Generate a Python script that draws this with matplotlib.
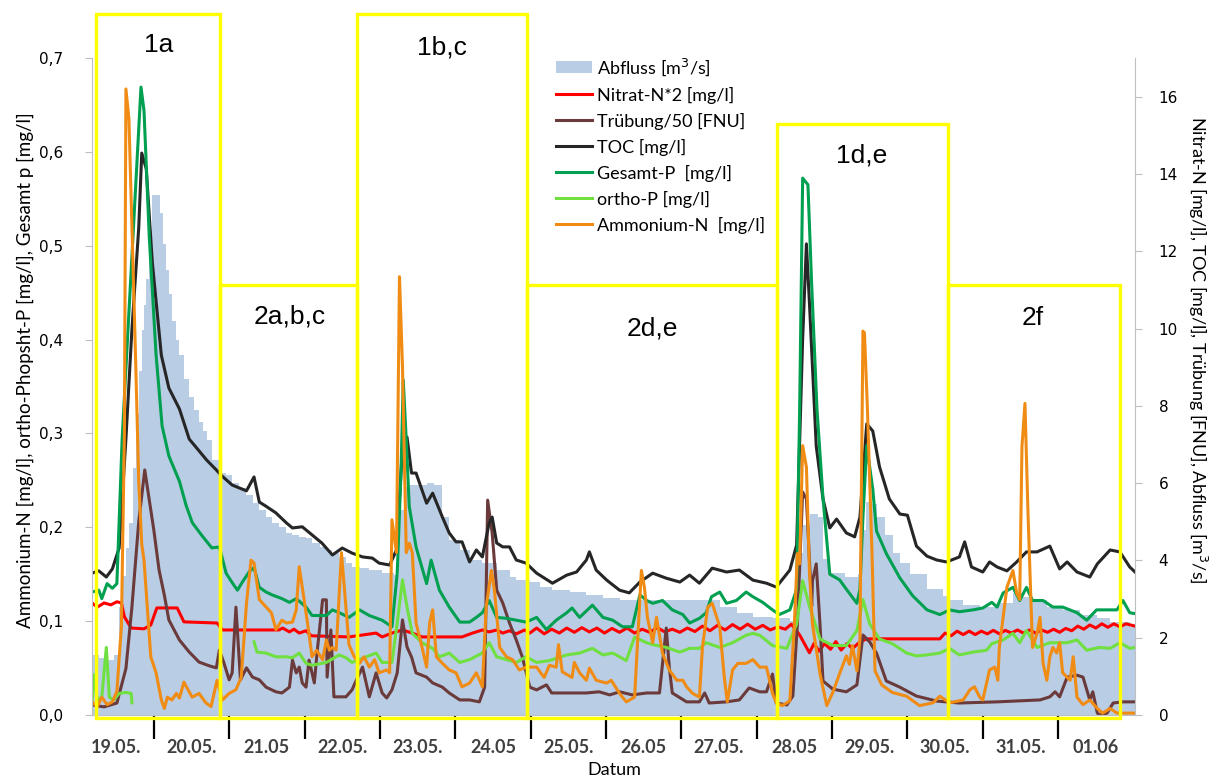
import numpy as np
import matplotlib
matplotlib.use("Agg")
import matplotlib.pyplot as plt
from matplotlib.patches import Rectangle

plt.rcParams['font.family'] = ['Lato', 'DejaVu Sans']

# time axis: days counted from 19.05. 00:00
abfluss_t = [0.18, 0.27, 0.38, 0.47, 0.54, 0.58, 0.63, 0.67, 0.72, 0.76, 0.80, 0.84, 0.87, 0.90,
             0.94, 0.98, 1.04, 1.08, 1.12, 1.16, 1.20, 1.24, 1.29, 1.34, 1.40, 1.47, 1.53, 1.60,
             1.65, 1.70, 1.77, 1.87, 1.96, 2.04, 2.13, 2.23, 2.31, 2.40,
             2.49, 2.57, 2.66, 2.76, 2.84, 2.93, 3.02, 3.10, 3.20, 3.29, 3.37, 3.46, 3.55, 3.63,
             3.73, 3.86, 4.03, 4.19, 4.26, 4.33, 4.39, 4.62, 4.72, 4.83, 4.92, 5.06, 5.19, 5.36,
             5.55, 5.72, 5.81, 5.99, 6.12, 6.29, 6.52, 6.74, 6.96, 7.18, 8.28, 8.51, 8.74, 8.95,
             9.21, 9.44, 9.53, 9.61, 9.71, 9.81, 9.88, 9.97, 10.17, 10.34, 10.40, 10.45, 10.53,
             10.60, 10.70, 10.81, 10.90, 11.03, 11.26, 11.47, 11.56, 11.74, 11.96, 12.19, 12.40,
             12.53, 12.63, 12.85, 13.07, 13.29, 13.52, 13.69, 13.95, 14.02]
abfluss = [1.55, 1.47, 1.42, 1.55, 2.79, 3.60, 4.32, 4.97, 6.40, 7.79, 8.90, 9.96, 10.60, 11.28,
           12.55, 13.45, 13.45, 13.00, 12.20, 11.51, 10.90, 10.19, 9.70, 9.31, 8.70, 8.22, 7.90, 7.58,
           7.35, 7.11, 6.60, 6.26, 6.21, 6.00, 5.87, 5.69, 5.48, 5.30,
           5.12, 4.97, 4.86, 4.71, 4.66, 4.60, 4.58, 4.45, 4.35, 4.27, 4.19, 4.09, 3.93, 3.83,
           3.80, 3.75, 3.67, 3.62, 5.30, 5.89, 5.95, 6.00, 5.95, 5.12, 4.53, 4.27, 4.01, 3.93,
           3.75, 3.57, 3.49, 3.44, 3.31, 3.23, 3.18, 3.10, 3.03, 2.98, 2.98, 2.80, 2.64, 2.54,
           2.51, 2.43, 4.19, 4.91, 5.20, 5.12, 4.04, 3.67, 3.57, 3.65, 4.79, 5.51, 5.45,
           5.12, 4.66, 4.19, 3.93, 3.65, 3.26, 3.08, 2.98, 2.85, 2.80, 2.90, 3.16,
           3.05, 2.98, 2.80, 2.72, 2.59, 2.51, 2.41, 2.28, 2.28]

nitrat_t = [0.18, 0.25, 0.34, 0.43, 0.51, 0.57, 0.61, 0.70, 0.87, 0.96, 1.04, 1.31, 1.40, 1.84,
            1.91, 2.66, 2.71, 2.80, 2.86, 2.93, 3.02, 3.09, 3.59, 3.95, 4.03, 4.16, 4.30, 4.43,
            4.56, 5.09, 5.23, 5.36, 5.45, 5.55, 5.63, 5.72, 5.81, 5.92, 5.99, 6.08, 6.18, 6.28,
            6.38, 6.48, 6.58, 6.68, 6.78, 6.88, 6.98, 7.08, 7.18, 7.28, 7.38, 7.48, 7.58, 7.68,
            7.78, 7.88, 7.98, 8.08, 8.18, 8.28, 8.38, 8.48, 8.58, 8.68, 8.78, 8.88, 8.98, 9.08,
            9.18, 9.28, 9.38, 9.46, 9.57, 9.70, 9.76, 9.83, 9.90, 9.98, 10.05, 10.12, 10.20,
            10.27, 10.37, 10.46, 11.43, 11.50, 11.58, 11.66, 11.74, 11.82, 11.90, 11.98, 12.06,
            12.14, 12.22, 12.30, 12.38, 12.46, 12.54, 12.62, 12.70, 12.78, 12.86, 12.94, 13.02,
            13.10, 13.18, 13.26, 13.34, 13.42, 13.50, 13.58, 13.66, 13.74, 13.82, 13.90, 14.02]
nitrat = [2.90, 2.79, 2.90, 2.85, 2.93, 2.90, 2.54, 2.25, 2.23, 2.33, 2.77, 2.77, 2.41, 2.38,
          2.20, 2.20, 2.25, 2.15, 2.22, 2.12, 2.18, 2.05, 2.02, 2.12, 2.02, 2.12, 2.20, 2.12,
          2.02, 2.02, 2.12, 2.20, 2.15, 2.20, 2.12, 2.18, 2.10, 2.20, 2.12, 2.25, 2.10, 2.22,
          2.12, 2.25, 2.14, 2.26, 2.15, 2.25, 2.12, 2.24, 2.14, 2.25, 2.12, 2.22, 2.14, 2.26,
          2.15, 2.22, 2.14, 2.25, 2.16, 2.30, 2.18, 2.32, 2.20, 2.34, 2.22, 2.35, 2.22, 2.32,
          2.20, 2.28, 2.22, 2.35, 2.07, 1.61, 1.85, 1.65, 1.85, 1.70, 1.90, 1.68, 1.85,
          1.72, 1.89, 1.97, 1.97, 2.12, 2.05, 2.17, 2.08, 2.17, 2.08, 2.17, 2.10,
          2.19, 2.10, 2.19, 2.12, 2.20, 2.12, 2.20, 2.12, 2.20, 2.14, 2.22, 2.14,
          2.24, 2.18, 2.30, 2.22, 2.33, 2.25, 2.36, 2.27, 2.36, 2.28, 2.36, 2.30]

truebung_t = [0.18, 0.34, 0.51, 0.63, 0.71, 0.80, 0.88, 0.94, 1.00, 1.07, 1.14, 1.20, 1.34, 1.47,
              1.60, 1.74, 1.83, 1.87, 1.93, 2.00, 2.04, 2.09, 2.15, 2.23, 2.31, 2.40, 2.49, 2.62,
              2.70, 2.80, 2.84, 2.89, 2.93, 2.97, 3.02, 3.06, 3.13, 3.17, 3.24, 3.29, 3.30, 3.35,
              3.39, 3.55, 3.63, 3.69, 3.77, 3.86, 3.95, 4.03, 4.09, 4.16, 4.23, 4.30, 4.36, 4.42,
              4.48, 4.62, 4.70, 4.83, 4.92, 5.06, 5.19, 5.32, 5.39, 5.43, 5.49, 5.55, 5.63, 5.72,
              5.81, 5.89, 5.99, 6.08, 6.21, 6.28, 6.48, 6.74, 6.91, 7.05, 7.18, 7.35, 7.54, 7.71,
              7.80, 7.84, 7.88, 8.07, 8.24, 8.31, 8.37, 8.60, 8.77, 8.90, 9.04, 9.13, 9.21, 9.26,
              9.40, 9.48, 9.54, 9.61, 9.66, 9.73, 9.74, 9.79, 9.84, 9.88, 10.01, 10.19, 10.33,
              10.41, 10.50, 10.59, 10.72, 10.90, 11.12, 11.39, 11.69, 12.19, 12.76, 12.89, 12.96,
              13.02, 13.12, 13.25, 13.33, 13.42, 13.46, 13.52, 13.55, 13.65, 13.73, 13.86, 14.02]
truebung = [0.26, 0.21, 0.31, 1.20, 2.80, 5.00, 6.34, 5.56, 4.79, 3.75, 3.10, 2.46, 1.94, 1.63,
            1.37, 1.27, 1.22, 1.68, 1.35, 0.91, 1.09, 2.79, 0.91, 1.22, 0.98, 0.91, 0.72, 0.60,
            0.57, 0.72, 1.42, 1.09, 1.24, 0.83, 0.72, 1.42, 0.83, 1.68, 2.98, 2.98, 0.98, 2.20,
            0.47, 0.47, 0.65, 0.91, 1.24, 0.47, 1.09, 0.57, 0.44, 0.65, 1.09, 2.46, 1.76, 1.50,
            1.09, 0.98, 0.83, 0.72, 0.57, 0.39, 0.39, 0.34, 0.72, 5.56, 4.71, 3.23, 2.90, 2.38,
            1.94, 1.50, 0.72, 0.65, 0.78, 0.57, 0.57, 0.57, 0.60, 0.52, 0.60, 0.52, 0.57, 0.57,
            2.25, 1.24, 0.57, 0.34, 0.34, 0.57, 0.31, 0.34, 0.39, 0.70, 0.60, 0.60, 1.06, 0.31,
            0.26, 0.49, 2.35, 5.77, 5.59, 2.82, 3.47, 3.91, 2.35, 0.88, 0.67, 0.60, 0.78,
            2.07, 1.89, 1.60, 0.88, 0.72, 0.49, 0.36, 0.31, 0.34, 0.39, 0.47, 0.60,
            0.47, 0.98, 1.03, 0.98, 0.39, 0.60, 0.05, 0.00, 0.05, 0.31, 0.34, 0.34]

toc_t = [0.18, 0.27, 0.37, 0.45, 0.54, 0.63, 0.71, 0.80, 0.84, 0.90, 0.98, 1.10, 1.20, 1.34,
         1.47, 1.56, 1.70, 1.83, 1.89, 2.04, 2.23, 2.33, 2.40, 2.49, 2.62, 2.76, 2.84, 2.97,
         3.10, 3.23, 3.37, 3.50, 3.63, 3.77, 3.90, 3.99, 4.13, 4.22, 4.30, 4.36, 4.42, 4.48,
         4.62, 4.70, 4.83, 4.92, 5.01, 5.09, 5.19, 5.28, 5.36, 5.45, 5.49, 5.55, 5.63, 5.72,
         5.81, 5.94, 6.08, 6.29, 6.48, 6.61, 6.74, 6.78, 6.87, 7.01, 7.18, 7.31, 7.45, 7.62,
         7.80, 7.98, 8.11, 8.24, 8.41, 8.60, 8.77, 8.95, 9.13, 9.26, 9.44, 9.53, 9.61, 9.66,
         9.70, 9.79, 9.88, 9.97, 10.06, 10.19, 10.30, 10.37, 10.46, 10.54, 10.63, 10.76, 10.90,
         11.00, 11.12, 11.26, 11.39, 11.52, 11.69, 11.76, 11.85, 12.00, 12.09, 12.19, 12.32,
         12.45, 12.58, 12.72, 12.89, 13.02, 13.12, 13.25, 13.42, 13.52, 13.69, 13.82, 13.95, 14.02]
toc = [3.67, 3.73, 3.57, 3.78, 4.32, 7.14, 9.99, 12.60, 14.54, 14.13, 11.72, 9.31, 8.46, 7.92,
       7.14, 6.93, 6.60, 6.34, 6.21, 5.95, 5.80, 6.16, 5.51, 5.40, 5.23, 4.97, 4.84, 4.87,
       4.66, 4.45, 4.14, 4.32, 4.19, 4.09, 4.06, 3.93, 3.88, 4.27, 6.93, 7.19, 6.26, 6.26,
       5.48, 5.74, 5.12, 4.71, 4.48, 4.48, 3.96, 4.27, 4.09, 4.97, 5.12, 4.45, 4.35, 4.35,
       4.01, 3.93, 3.67, 3.41, 3.62, 3.70, 4.01, 4.22, 3.75, 3.49, 3.23, 3.16, 3.44, 3.67,
       3.54, 3.44, 3.62, 3.41, 3.80, 3.70, 3.75, 3.49, 3.41, 3.31, 3.75, 4.40, 9.73, 12.19,
       10.66, 6.96, 5.59, 4.84, 5.07, 4.71, 4.61, 5.12, 7.53, 7.35, 6.42, 5.59, 5.20,
       5.17, 4.37, 4.11, 4.01, 3.96, 4.09, 4.48, 3.83, 3.70, 3.96, 3.83, 3.73,
       3.96, 4.22, 4.22, 4.37, 3.78, 3.96, 3.70, 3.57, 3.91, 4.27, 4.22, 3.83, 3.70]

gesamt_t = [0.18, 0.27, 0.31, 0.38, 0.45, 0.51, 0.58, 0.67, 0.76, 0.83, 0.87, 0.94, 1.03, 1.11,
            1.20, 1.34, 1.43, 1.51, 1.64, 1.77, 1.87, 1.96, 2.04, 2.11, 2.17, 2.27, 2.33, 2.40,
            2.49, 2.57, 2.70, 2.80, 2.89, 3.02, 3.10, 3.29, 3.37, 3.46, 3.59, 3.73, 3.86, 4.03,
            4.16, 4.23, 4.28, 4.31, 4.35, 4.39, 4.48, 4.62, 4.68, 4.79, 4.92, 5.06, 5.19, 5.28,
            5.36, 5.45, 5.55, 5.68, 5.81, 5.94, 6.08, 6.21, 6.34, 6.48, 6.55, 6.65, 6.82, 6.96,
            7.09, 7.22, 7.35, 7.45, 7.54, 7.62, 7.75, 7.88, 8.02, 8.11, 8.24, 8.33, 8.40, 8.51,
            8.60, 8.73, 8.86, 8.95, 9.08, 9.21, 9.30, 9.44, 9.53, 9.57, 9.61, 9.68, 9.73, 9.80,
            9.88, 9.97, 10.10, 10.19, 10.33, 10.37, 10.41, 10.46, 10.54, 10.59, 10.72, 10.90,
            11.07, 11.26, 11.43, 11.56, 11.69, 11.87, 12.00, 12.12, 12.19, 12.27, 12.40, 12.49,
            12.58, 12.66, 12.80, 12.93, 13.06, 13.25, 13.38, 13.51, 13.65, 13.78, 13.86, 13.95, 14.02]
gesamt_p = [0.131, 0.133, 0.124, 0.140, 0.135, 0.140, 0.294, 0.428, 0.564, 0.669, 0.644, 0.509,
            0.384, 0.308, 0.276, 0.249, 0.223, 0.205, 0.191, 0.178, 0.179, 0.151, 0.141, 0.133,
            0.141, 0.153, 0.157, 0.136, 0.131, 0.128, 0.124, 0.120, 0.124, 0.115, 0.106, 0.106,
            0.112, 0.109, 0.104, 0.112, 0.106, 0.101, 0.094, 0.151, 0.258, 0.357, 0.293, 0.222,
            0.179, 0.140, 0.165, 0.133, 0.115, 0.099, 0.099, 0.104, 0.109, 0.122, 0.104, 0.103,
            0.101, 0.099, 0.104, 0.091, 0.101, 0.109, 0.114, 0.104, 0.117, 0.104, 0.101, 0.094,
            0.094, 0.128, 0.122, 0.119, 0.122, 0.112, 0.107, 0.098, 0.103, 0.109, 0.126, 0.131,
            0.119, 0.122, 0.131, 0.126, 0.120, 0.112, 0.107, 0.112, 0.134, 0.326, 0.572, 0.565,
            0.458, 0.326, 0.231, 0.150, 0.144, 0.134, 0.119, 0.134, 0.211, 0.287, 0.241, 0.196,
            0.172, 0.146, 0.127, 0.112, 0.107, 0.112, 0.110, 0.112, 0.114, 0.120, 0.115, 0.130,
            0.136, 0.122, 0.136, 0.122, 0.122, 0.115, 0.115, 0.109, 0.101, 0.112, 0.112, 0.112,
            0.122, 0.109, 0.108]

ortho_t = [0.18, 0.21, 0.25, 0.31, 0.37, 0.41, 0.47, 0.54, 0.63, 0.70, 0.71, 1.50, 2.33, 2.37,
           2.49, 2.62, 2.76, 2.84, 2.93, 3.02, 3.10, 3.29, 3.46, 3.55, 3.63, 3.82, 3.95, 4.03,
           4.16, 4.23, 4.30, 4.36, 4.43, 4.56, 4.70, 4.79, 4.92, 5.06, 5.19, 5.36, 5.45, 5.55,
           5.68, 5.81, 5.94, 6.08, 6.25, 6.48, 6.65, 6.82, 6.96, 7.09, 7.27, 7.38, 7.54, 7.62,
           7.80, 7.98, 8.11, 8.24, 8.33, 8.51, 8.68, 8.86, 8.95, 9.04, 9.21, 9.40, 9.53, 9.61,
           9.70, 9.84, 10.01, 10.19, 10.33, 10.41, 10.50, 10.63, 10.80, 10.99, 11.12, 11.26,
           11.43, 11.56, 11.69, 11.87, 12.05, 12.12, 12.27, 12.40, 12.49, 12.58, 12.72, 12.89,
           13.12, 13.25, 13.38, 13.55, 13.69, 13.82, 13.95, 14.02]
ortho_p = [0.013, 0.043, 0.016, 0.019, 0.072, 0.019, 0.016, 0.023, 0.024, 0.023, 0.013, np.nan,
           0.078, 0.067, 0.066, 0.062, 0.062, 0.061, 0.066, 0.055, 0.053, 0.056, 0.064, 0.061,
           0.056, 0.062, 0.066, 0.056, 0.056, 0.098, 0.144, 0.115, 0.087, 0.077, 0.071, 0.062,
           0.066, 0.056, 0.059, 0.066, 0.077, 0.062, 0.059, 0.056, 0.062, 0.056, 0.058, 0.064,
           0.066, 0.071, 0.064, 0.066, 0.058, 0.083, 0.077, 0.075, 0.072, 0.067, 0.071, 0.071,
           0.077, 0.072, 0.077, 0.085, 0.087, 0.085, 0.074, 0.071, 0.097, 0.143, 0.116, 0.081,
           0.074, 0.074, 0.090, 0.123, 0.097, 0.081, 0.076, 0.066, 0.063, 0.064, 0.066, 0.071,
           0.064, 0.067, 0.069, 0.076, 0.080, 0.087, 0.077, 0.090, 0.072, 0.077, 0.077, 0.080,
           0.069, 0.072, 0.071, 0.077, 0.071, 0.072]

amm_t = [0.18, 0.25, 0.31, 0.38, 0.45, 0.51, 0.57, 0.61, 0.63, 0.67, 0.71, 0.76, 0.80, 0.84,
         0.87, 0.96, 1.03, 1.10, 1.14, 1.18, 1.24, 1.30, 1.34, 1.40, 1.44, 1.51, 1.60, 1.69,
         1.76, 1.84, 1.91, 2.00, 2.09, 2.16, 2.23, 2.29, 2.33, 2.40, 2.49, 2.56, 2.62, 2.70,
         2.76, 2.84, 2.89, 2.93, 2.97, 3.04, 3.10, 3.16, 3.24, 3.29, 3.33, 3.37, 3.42, 3.49,
         3.55, 3.59, 3.66, 3.73, 3.79, 3.86, 3.93, 3.99, 4.09, 4.13, 4.16, 4.22, 4.26, 4.30,
         4.35, 4.39, 4.43, 4.48, 4.56, 4.62, 4.66, 4.70, 4.75, 4.83, 4.92, 5.01, 5.09, 5.19,
         5.28, 5.36, 5.41, 5.48, 5.52, 5.59, 5.68, 5.76, 5.85, 5.94, 6.08, 6.18, 6.25, 6.34,
         6.37, 6.42, 6.55, 6.58, 6.65, 6.74, 6.78, 6.87, 7.01, 7.07, 7.18, 7.27, 7.38, 7.47,
         7.51, 7.55, 7.62, 7.67, 7.75, 7.84, 7.94, 8.02, 8.07, 8.15, 8.24, 8.28, 8.35, 8.41,
         8.51, 8.57, 8.61, 8.68, 8.75, 8.86, 8.95, 9.04, 9.13, 9.21, 9.26, 9.34, 9.44, 9.50,
         9.54, 9.57, 9.61, 9.66, 9.70, 9.74, 9.84, 9.93, 10.01, 10.10, 10.19, 10.23, 10.27,
         10.33, 10.37, 10.41, 10.43, 10.47, 10.53, 10.57, 10.66, 10.80, 10.99, 11.16, 11.34,
         11.43, 11.56, 11.74, 11.83, 11.89, 11.96, 12.00, 12.09, 12.16, 12.20, 12.22, 12.32,
         12.40, 12.45, 12.49, 12.52, 12.56, 12.60, 12.63, 12.66, 12.72, 12.76, 12.80, 12.85,
         12.89, 12.93, 12.98, 13.02, 13.06, 13.16, 13.20, 13.25, 13.33, 13.42, 13.52, 13.59,
         13.69, 13.78, 14.02]
ammonium = [0.014, 0.009, 0.019, 0.011, 0.014, 0.025, 0.094, 0.300, 0.667, 0.635, 0.519, 0.375,
            0.249, 0.182, 0.165, 0.062, 0.045, 0.016, 0.007, 0.019, 0.016, 0.023, 0.018, 0.035,
            0.029, 0.019, 0.023, 0.013, 0.009, 0.037, 0.016, 0.023, 0.027, 0.040, 0.119, 0.165,
            0.162, 0.123, 0.115, 0.109, 0.091, 0.101, 0.098, 0.099, 0.112, 0.158, 0.136, 0.098,
            0.062, 0.069, 0.059, 0.080, 0.069, 0.072, 0.069, 0.173, 0.115, 0.075, 0.062, 0.055,
            0.062, 0.051, 0.059, 0.045, 0.048, 0.045, 0.208, 0.173, 0.467, 0.371, 0.173, 0.183,
            0.173, 0.098, 0.072, 0.051, 0.098, 0.112, 0.062, 0.055, 0.048, 0.045, 0.030, 0.034,
            0.045, 0.030, 0.115, 0.154, 0.133, 0.072, 0.062, 0.059, 0.048, 0.051, 0.051, 0.040,
            0.053, 0.051, 0.075, 0.046, 0.040, 0.056, 0.045, 0.037, 0.050, 0.037, 0.034, 0.037,
            0.023, 0.014, 0.019, 0.154, 0.136, 0.104, 0.077, 0.104, 0.066, 0.048, 0.037, 0.037,
            0.030, 0.023, 0.019, 0.072, 0.115, 0.119, 0.094, 0.040, 0.014, 0.048, 0.055, 0.055,
            0.059, 0.051, 0.051, 0.023, 0.013, 0.010, 0.015, 0.097, 0.172, 0.161, 0.287, 0.264,
            0.153, 0.097, 0.044, 0.010, 0.024, 0.044, 0.063, 0.054, 0.074, 0.047, 0.081, 0.409,
            0.407, 0.325, 0.173, 0.047, 0.032, 0.024, 0.020, 0.010, 0.013, 0.020, 0.013, 0.016,
            0.027, 0.030, 0.019, 0.016, 0.048, 0.051, 0.037, 0.072, 0.136, 0.154, 0.130, 0.123,
            0.286, 0.332, 0.215, 0.144, 0.072, 0.087, 0.104, 0.055, 0.037, 0.062, 0.072, 0.066,
            0.077, 0.045, 0.037, 0.062, 0.019, 0.011, 0.016, 0.007, 0.002, 0.007, 0.002, 0.002]

day_labels = ['19.05.', '20.05.', '21.05', '22.05.', '23.05.', '24.05', '25.05.', '26.05',
              '27.05.', '28.05', '29.05.', '30.05.', '31.05.', '01.06']
left_ticks = [0.0, 0.1, 0.2, 0.3, 0.4, 0.5, 0.6, 0.7]
left_ticklabels = ['0,0', '0,1', '0,2', '0,3', '0,4', '0,5', '0,6', '0,7']
right_ticks = [0, 2, 4, 6, 8, 10, 12, 14, 16]

# yellow event boxes (label, start, end, top on left axis, label x, label y)
box_names = ['1a', '2a,b,c', '1b,c', '2d,e', '1d,e', '2f']
box_start = [0.234, 1.880, 3.700, 5.958, 9.264, 11.535]
box_end = [1.880, 3.700, 5.958, 9.264, 11.535, 13.82]
box_top = [0.747, 0.458, 0.747, 0.458, 0.630, 0.458]
box_text_x = [1.07, 2.80, 4.83, 7.62, 10.39, 12.66]
box_text_y = [0.714, 0.425, 0.711, 0.412, 0.596, 0.423]

fig = plt.figure(figsize=(12.14, 7.8), dpi=100)
ax = fig.add_axes([92 / 1214, 65 / 780, 1043 / 1214, 657 / 780])
ax2 = ax.twinx()
ax.set_zorder(ax2.get_zorder() + 1)
ax.patch.set_visible(False)

lw = 2.2
ax2.fill_between(abfluss_t, abfluss, step='post', color='#B9CDE5', lw=0,
                 label=r'Abfluss [m$^3$/s]')
ax2.plot(nitrat_t, nitrat, color='#FF0000', lw=lw, label='Nitrat-N*2 [mg/l]')
ax2.plot(truebung_t, truebung, color='#6B3A3A', lw=lw, label='Trübung/50 [FNU]')
ax2.plot(toc_t, toc, color='#262626', lw=lw, label='TOC [mg/l]')
ax.plot(gesamt_t, gesamt_p, color='#00A050', lw=lw, label='Gesamt-P  [mg/l]')
ax.plot(ortho_t, ortho_p, color='#70E040', lw=lw, label='ortho-P [mg/l]')
ax.plot(amm_t, ammonium, color='#F08C14', lw=lw, label='Ammonium-N  [mg/l]')

ax.set_xlim(0.18, 14.02)
ax.set_ylim(0, 0.7)
ax2.set_ylim(0, 17)

# x axis: tick marks at day borders, labels in the middle of each day
ax.set_xticks(range(1, 14))
ax.set_xticks(np.arange(len(day_labels)) + 0.5, minor=True)
ax.set_xticklabels(day_labels, minor=True, fontweight='bold', color='#404040', fontsize=13)
ax.tick_params(axis='x', which='major', length=17, width=1.6, color='black', labelbottom=False)
ax.tick_params(axis='x', which='minor', length=0, pad=17)

ax.set_yticks(left_ticks)
ax.set_yticklabels(left_ticklabels, family='DejaVu Sans', fontsize=11)
ax.tick_params(axis='y', length=5, color='#BFBFBF', pad=16)
ax2.set_yticks(right_ticks)
ax2.set_yticklabels([str(v) for v in right_ticks], family='DejaVu Sans', fontsize=11)
ax2.tick_params(axis='y', length=5, color='#BFBFBF', pad=12)

for s in ['top', 'right']:
    ax.spines[s].set_visible(False)
for s in ['top', 'left', 'bottom']:
    ax2.spines[s].set_visible(False)
ax.spines['left'].set_color('#BFBFBF')
ax.spines['bottom'].set_color('#BFBFBF')
ax2.spines['right'].set_color('#BFBFBF')

for name, x0, x1, top, tx, ty in zip(box_names, box_start, box_end, box_top, box_text_x, box_text_y):
    ax.add_patch(Rectangle((x0, -0.003), x1 - x0, top + 0.003, fill=False,
                           edgecolor='#FFFF00', lw=2.4, clip_on=False, zorder=6))
    ax.text(tx, ty, name, ha='center', va='center', fontsize=19,
            family='Liberation Sans', zorder=7)

h2, l2 = ax2.get_legend_handles_labels()
h1, l1 = ax.get_legend_handles_labels()
ax.legend(h2 + h1, l2 + l1, loc='upper left', bbox_to_anchor=(0.445, 1.003), frameon=False,
          fontsize=13, handlelength=2.0, handletextpad=0.25, labelspacing=0.5,
          borderpad=0, borderaxespad=0)

fig.text(25 / 1214, 1 - 370 / 780, 'Ammonium-N [mg/l], ortho-Phopsht-P [mg/l], Gesamt p [mg/l]',
         rotation=90, ha='center', va='center', fontsize=13.5)
fig.text(1198 / 1214, 1 - 350 / 780, r'Nitrat-N [mg/l], TOC [mg/l], Trübung [FNU], Abfluss [m$^3$/s]',
         rotation=270, ha='center', va='center', fontsize=13)
fig.text(614 / 1214, 1 - 770 / 780, 'Datum', ha='center', va='center', fontsize=13)

fig.savefig('out.png', dpi=100)
